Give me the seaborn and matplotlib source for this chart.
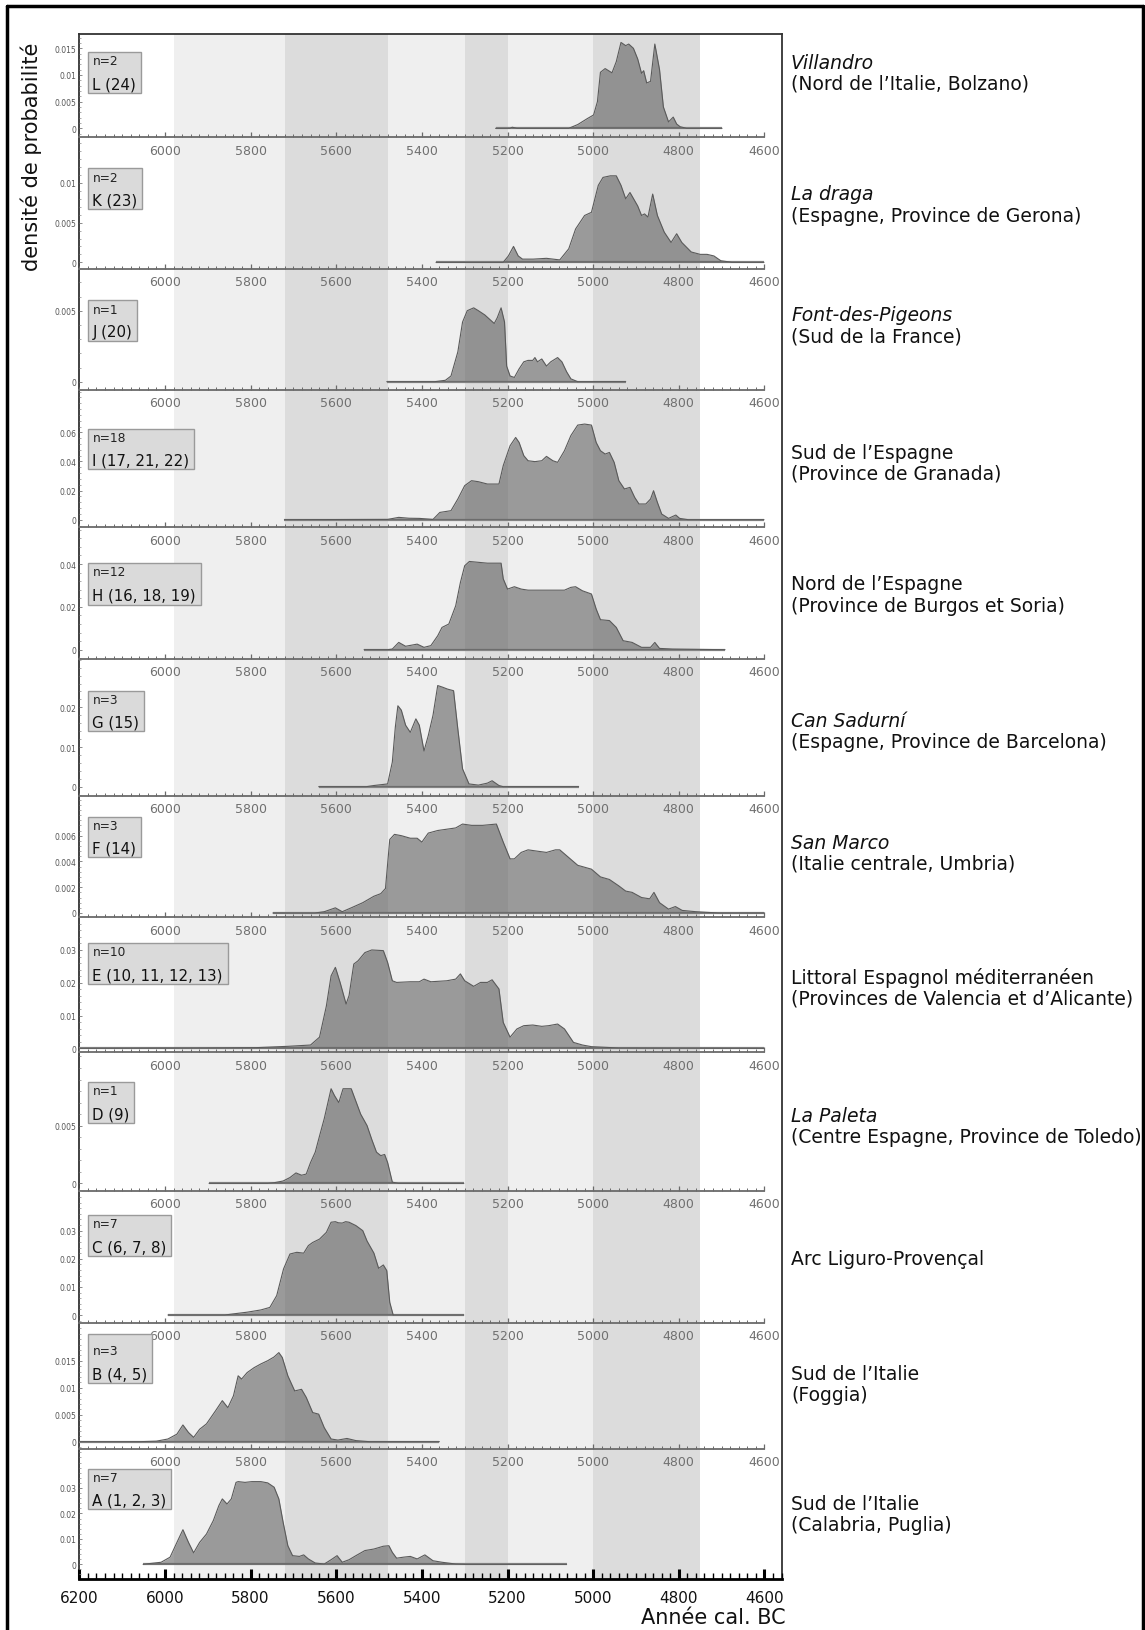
import numpy as np
import pandas as pd
import matplotlib
matplotlib.use("Agg")
import matplotlib.pyplot as plt
import seaborn as sns
from matplotlib.patches import Rectangle
from matplotlib.lines import Line2D
from matplotlib.ticker import FixedLocator, MultipleLocator, AutoMinorLocator, FuncFormatter

sns.set_theme(style="white")
plt.rcParams['font.family'] = ['DejaVu Sans']

# ---------------- data ----------------
panel_ids = ["L", "K", "J", "I", "H", "G", "F", "E", "D", "C", "B", "A"]
n_counts = [2, 2, 1, 18, 12, 3, 3, 10, 1, 7, 3, 7]
box_labels = ["L (24)", "K (23)", "J (20)", "I (17, 21, 22)", "H (16, 18, 19)", "G (15)",
              "F (14)", "E (10, 11, 12, 13)", "D (9)", "C (6, 7, 8)", "B (4, 5)", "A (1, 2, 3)"]
site_names = ["Villandro", "La draga", "Font-des-Pigeons", "Sud de l\u2019Espagne", "Nord de l\u2019Espagne",
              "Can Sadurní", "San Marco", "Littoral Espagnol méditerranéen", "La Paleta",
              "Arc Liguro-Provençal", "Sud de l\u2019Italie", "Sud de l\u2019Italie"]
site_regions = ["(Nord de l\u2019Italie, Bolzano)", "(Espagne, Province de Gerona)", "(Sud de la France)",
                "(Province de Granada)", "(Province de Burgos et Soria)", "(Espagne, Province de Barcelona)",
                "(Italie centrale, Umbria)", "(Provinces de Valencia et d\u2019Alicante)",
                "(Centre Espagne, Province de Toledo)", "", "(Foggia)", "(Calabria, Puglia)"]
site_italic = [True, True, True, False, False, True, True, False, True, False, False, False]
y_ticks = [[0, 0.005, 0.01, 0.015], [0, 0.005, 0.01], [0, 0.005], [0, 0.02, 0.04, 0.06],
           [0, 0.02, 0.04], [0, 0.01, 0.02], [0, 0.002, 0.004, 0.006], [0, 0.01, 0.02, 0.03],
           [0, 0.005], [0, 0.01, 0.02, 0.03], [0, 0.005, 0.01, 0.015], [0, 0.01, 0.02, 0.03]]
x_tick_years = [6200, 6000, 5800, 5600, 5400, 5200, 5000, 4800, 4600]

years_L = [5228, 5194, 5189, 5178, 5057, 5036, 5014, 4999, 4990, 4983, 4972, 4956, 4946, 4935, 4924, 4917,
           4906, 4896, 4887, 4882, 4875, 4866, 4856, 4845, 4836, 4824, 4813, 4805, 4797, 4782, 4699]
dens_L = [0, 0, 0.0002, 0, 0, 0.0007, 0.0018, 0.0025, 0.005, 0.0105, 0.0112, 0.0104, 0.0125, 0.0161, 0.0155,
          0.0158, 0.015, 0.013, 0.0103, 0.0108, 0.0085, 0.0088, 0.0158, 0.011, 0.004, 0.0012, 0.0021, 0.0008,
          0.0003, 0, 0]

years_K = [5367, 5210, 5198, 5186, 5175, 5165, 5140, 5109, 5078, 5057, 5041, 5020, 5004, 4988, 4977, 4960,
           4946, 4935, 4924, 4914, 4896, 4887, 4880, 4872, 4861, 4850, 4834, 4818, 4805, 4793, 4771, 4750,
           4734, 4718, 4702, 4676, 4601]
dens_K = [0, 0, 0.0008, 0.002, 0.0008, 0.0004, 0.0004, 0.0005, 0.0003, 0.0017, 0.0042, 0.0059, 0.0063,
          0.0097, 0.0107, 0.0109, 0.0109, 0.0097, 0.008, 0.0088, 0.0071, 0.0059, 0.0061, 0.0057, 0.0086,
          0.0059, 0.0038, 0.0025, 0.0036, 0.0025, 0.0013, 0.001, 0.001, 0.0008, 0.0002, 0, 0]

years_J = [5482, 5370, 5345, 5332, 5316, 5305, 5294, 5279, 5268, 5253, 5242, 5231, 5224, 5215, 5207, 5202,
           5194, 5184, 5173, 5162, 5152, 5141, 5136, 5130, 5120, 5109, 5099, 5083, 5073, 5062, 5052, 5036, 4924]
dens_J = [0, 0, 0.0001, 0.0004, 0.0021, 0.0042, 0.005, 0.0052, 0.005, 0.0047, 0.0044, 0.0041, 0.0045,
          0.0052, 0.0042, 0.0011, 0.0004, 0.0003, 0.0009, 0.0014, 0.0015, 0.0015, 0.0017, 0.0014, 0.0016,
          0.0011, 0.0014, 0.0017, 0.0014, 0.0007, 0.0002, 0, 0]

years_I = [5721, 5600, 5480, 5454, 5430, 5406, 5374, 5358, 5332, 5316, 5300, 5284, 5268, 5247, 5220, 5210,
           5194, 5181, 5173, 5162, 5152, 5136, 5120, 5109, 5094, 5083, 5067, 5052, 5036, 5020, 5004, 4993,
           4983, 4972, 4962, 4951, 4940, 4927, 4914, 4903, 4893, 4877, 4866, 4859, 4850, 4840, 4824, 4807,
           4798, 4778, 4729, 4601]
dens_I = [0, 0.0001, 0.0002, 0.0016, 0.001, 0.0009, 0.0002, 0.005, 0.0062, 0.0142, 0.0234, 0.0268, 0.0261,
          0.0245, 0.0245, 0.0371, 0.0508, 0.0565, 0.0531, 0.044, 0.0405, 0.0399, 0.0405, 0.0435, 0.0405,
          0.0394, 0.0474, 0.0578, 0.065, 0.0657, 0.065, 0.0531, 0.0474, 0.0451, 0.0462, 0.0394, 0.0268,
          0.0211, 0.0222, 0.0153, 0.0108, 0.0108, 0.0142, 0.0199, 0.0119, 0.0039, 0.0009, 0.0032, 0.0009,
          0, 0, 0]

years_H = [5535, 5480, 5469, 5454, 5438, 5411, 5395, 5379, 5363, 5353, 5337, 5321, 5310, 5300, 5289, 5268,
           5247, 5215, 5210, 5200, 5184, 5168, 5152, 5067, 5052, 5041, 5025, 5004, 4993, 4983, 4962, 4946,
           4930, 4909, 4887, 4866, 4856, 4845, 4814, 4692]
dens_H = [0, 0, 0.0003, 0.0034, 0.0016, 0.0026, 0.0011, 0.0019, 0.0065, 0.0104, 0.012, 0.0205, 0.0314,
          0.0392, 0.0412, 0.0408, 0.0404, 0.0404, 0.0331, 0.0283, 0.0294, 0.0283, 0.0278, 0.0278, 0.0291,
          0.0294, 0.0275, 0.026, 0.019, 0.014, 0.0136, 0.0104, 0.0042, 0.0034, 0.0011, 0.0011, 0.0034,
          0.0006, 0.0003, 0]

years_G = [5641, 5530, 5512, 5480, 5469, 5462, 5456, 5448, 5438, 5427, 5414, 5406, 5395, 5385, 5374, 5363,
           5352, 5340, 5326, 5316, 5305, 5290, 5268, 5247, 5236, 5220, 5210, 5034]
dens_G = [0, 0, 0.0003, 0.0007, 0.0062, 0.015, 0.0204, 0.0193, 0.0155, 0.0137, 0.0171, 0.0155, 0.009,
          0.0129, 0.018, 0.0255, 0.0251, 0.0246, 0.0242, 0.0145, 0.0045, 0.0007, 0.0004, 0.0009, 0.0015,
          0.0003, 0, 0]

years_F = [5748, 5650, 5628, 5602, 5586, 5565, 5538, 5512, 5496, 5485, 5475, 5464, 5448, 5427, 5411, 5400,
           5385, 5363, 5342, 5321, 5305, 5284, 5258, 5226, 5210, 5194, 5184, 5168, 5152, 5131, 5109, 5088,
           5078, 5057, 5036, 5004, 4983, 4962, 4940, 4924, 4909, 4887, 4868, 4858, 4845, 4824, 4808, 4792,
           4760, 4707, 4601]
dens_F = [0, 0, 0.0001, 0.0004, 0.0001, 0.0004, 0.0008, 0.0013, 0.0015, 0.0019, 0.0057, 0.0061, 0.006,
          0.0058, 0.0058, 0.0055, 0.0062, 0.0064, 0.0065, 0.0066, 0.0069, 0.0068, 0.0068, 0.0069, 0.0055,
          0.0042, 0.0042, 0.0047, 0.0049, 0.0048, 0.0047, 0.0049, 0.0049, 0.0043, 0.0037, 0.0034, 0.0028,
          0.0026, 0.0021, 0.0017, 0.0016, 0.0012, 0.0011, 0.0016, 0.0008, 0.0003, 0.0005, 0.0002, 0.0001,
          0, 0]

years_E = [6200, 5900, 5787, 5713, 5660, 5639, 5623, 5612, 5602, 5591, 5577, 5570, 5559, 5549, 5533, 5517,
           5490, 5480, 5469, 5459, 5427, 5406, 5395, 5379, 5342, 5321, 5310, 5300, 5279, 5263, 5247, 5236,
           5220, 5210, 5194, 5178, 5162, 5141, 5120, 5104, 5083, 5067, 5046, 5025, 5004, 4940, 4601]
dens_E = [0, 0.0001, 0.0002, 0.0006, 0.001, 0.0034, 0.0129, 0.0221, 0.0247, 0.0201, 0.0135, 0.0161, 0.0257,
          0.0267, 0.0292, 0.03, 0.0298, 0.0262, 0.0206, 0.0201, 0.0203, 0.0203, 0.0211, 0.0203, 0.0206,
          0.0211, 0.0227, 0.0206, 0.0189, 0.0201, 0.0201, 0.0209, 0.0181, 0.0079, 0.0034, 0.0059, 0.0069,
          0.0071, 0.0067, 0.0069, 0.0074, 0.0059, 0.0018, 0.001, 0.0005, 0.0001, 0]

years_D = [5897, 5760, 5745, 5724, 5708, 5694, 5681, 5670, 5660, 5649, 5639, 5628, 5612, 5604, 5594, 5584,
           5575, 5565, 5556, 5543, 5528, 5517, 5506, 5496, 5487, 5480, 5469, 5455, 5302]
dens_D = [0, 0, 0.00005, 0.0002, 0.0005, 0.0009, 0.0007, 0.0008, 0.0018, 0.0027, 0.0041, 0.0056, 0.0082,
          0.0076, 0.007, 0.0082, 0.0082, 0.0082, 0.0073, 0.006, 0.005, 0.0038, 0.0027, 0.0024, 0.0025,
          0.0018, 0.0001, 0, 0]

years_C = [5993, 5860, 5840, 5808, 5776, 5755, 5739, 5723, 5708, 5692, 5676, 5665, 5655, 5639, 5623, 5612,
           5602, 5595, 5586, 5578, 5570, 5554, 5538, 5528, 5512, 5501, 5490, 5482, 5475, 5467, 5302]
dens_C = [0, 0, 0.0004, 0.001, 0.0018, 0.0027, 0.0069, 0.0164, 0.0217, 0.0223, 0.022, 0.0247, 0.0258, 0.027,
          0.0294, 0.033, 0.0332, 0.0328, 0.0327, 0.0332, 0.033, 0.0318, 0.03, 0.0263, 0.022, 0.0166, 0.0178,
          0.0158, 0.0045, 0, 0]

years_B = [6200, 6060, 6020, 5993, 5972, 5958, 5945, 5933, 5919, 5903, 5882, 5866, 5853, 5840, 5829, 5821,
           5808, 5792, 5776, 5760, 5745, 5734, 5726, 5713, 5697, 5681, 5670, 5655, 5641, 5628, 5612, 5596,
           5575, 5554, 5522, 5359]
dens_B = [0, 0, 0.0001, 0.0005, 0.0014, 0.0031, 0.0017, 0.0008, 0.0023, 0.0033, 0.0057, 0.0076, 0.0063,
          0.0085, 0.0122, 0.0116, 0.0128, 0.0137, 0.0144, 0.015, 0.0157, 0.0165, 0.0156, 0.0122, 0.0094,
          0.0097, 0.0082, 0.0054, 0.0051, 0.0026, 0.0005, 0.0003, 0.0006, 0.0002, 0, 0]

years_A = [6051, 6009, 5988, 5972, 5958, 5945, 5933, 5919, 5903, 5887, 5874, 5866, 5855, 5845, 5834, 5829,
           5813, 5797, 5776, 5760, 5745, 5734, 5724, 5713, 5702, 5686, 5676, 5665, 5649, 5628, 5612, 5598,
           5586, 5570, 5554, 5533, 5512, 5490, 5477, 5469, 5459, 5443, 5427, 5411, 5393, 5374, 5353, 5321,
           5300, 5062]
dens_A = [0, 0.0008, 0.0028, 0.0086, 0.0136, 0.0086, 0.0045, 0.0086, 0.0119, 0.0172, 0.0231, 0.0257,
          0.0237, 0.0257, 0.0322, 0.0325, 0.0322, 0.0325, 0.0325, 0.032, 0.0303, 0.0257, 0.0165, 0.0073,
          0.0034, 0.0031, 0.0037, 0.0021, 0.0005, 0.0001, 0.0018, 0.0034, 0.0008, 0.0018, 0.0034, 0.0054,
          0.006, 0.0071, 0.0073, 0.0047, 0.0024, 0.0028, 0.0031, 0.0021, 0.0037, 0.0014, 0.0008, 0.0001,
          0, 0]

curve_years = [years_L, years_K, years_J, years_I, years_H, years_G, years_F, years_E, years_D, years_C,
               years_B, years_A]
curve_dens = [dens_L, dens_K, dens_J, dens_I, dens_H, dens_G, dens_F, dens_E, dens_D, dens_C, dens_B, dens_A]

band_edges = [(5980, 5720), (5720, 5480), (5480, 5300), (5300, 5200), (5200, 5000), (5000, 4750)]
band_shades = ["#efefef", "#dcdcdc", "#efefef", "#dcdcdc", "#efefef", "#dcdcdc"]

# ---------------- layout (pixels) ----------------
W, H = 1145, 1631
fig = plt.figure(figsize=(W / 100, H / 100), dpi=100)
fig.patch.set_facecolor("white")


def fx(x):
    return x / W


def fy(y):
    return 1 - y / H


X0, X1 = 79.3, 782.0
XLIM = (6200, 4559)
frame_top, frame_bot = 35, 1580

axis_y = [138.3, 270, 390.7, 528.3, 660, 796.7, 918.3, 1053.3, 1191.7, 1324, 1450, 1580]
base_y = [129.3, 263.3, 382.7, 520.7, 650.7, 787.7, 914, 1049.3, 1184.3, 1316, 1442.7, 1565.3]
px_per_unit = [5333, 7933, 14200, 1455.6, 2141.7, 3966.7, 12889, 3277.8, 11533, 2811, 5400, 2544]
top_y = [frame_top] + axis_y[:-1]
box_top = [52.7, 169, 301, 430, 564, 692, 818, 944, 1083, 1216, 1335, 1470]
box_h = [41, 41, 41, 40, 42, 40, 40, 41, 41, 41, 49, 40]
n_off = [9, 9, 9, 9, 9, 9, 9, 9, 9, 9, 16.5, 9]
lab_off = [32, 32, 32, 31, 32, 31, 31, 32, 32, 32, 40.5, 31]

# background bands + frame
bg = fig.add_axes([fx(X0), fy(frame_bot), fx(X1) - fx(X0), (frame_bot - frame_top) / H])
bg.set_xlim(*XLIM)
bg.set_ylim(0, 1)
bg.set_facecolor("white")
for (a, b), c in zip(band_edges, band_shades):
    bg.axvspan(a, b, color=c, lw=0)
bg.set_xticks([])
bg.set_yticks([])
for s in ["left", "right", "top"]:
    bg.spines[s].set_visible(True)
    bg.spines[s].set_color("#333333")
    bg.spines[s].set_linewidth(1.3)
bg.spines["bottom"].set_visible(False)

fill_color = "#555555"
texts_for_boxes = []

for i in range(12):
    top, axl, base, ppu = top_y[i], axis_y[i], base_y[i], px_per_unit[i]
    ax = fig.add_axes([fx(X0), fy(axl), fx(X1) - fx(X0), (axl - top) / H])
    ax.set_facecolor("none")
    ax.patch.set_alpha(0)
    ax.set_xlim(*XLIM)
    ax.set_ylim(-(axl - base) / ppu, (base - top) / ppu)

    df = pd.DataFrame({"year": curve_years[i], "density": curve_dens[i]})
    ax.plot([df.year.iloc[0], df.year.iloc[-1]], [0, 0], color="#8a8a8a", lw=1.6, zorder=2,
            solid_capstyle="butt")
    ax.fill_between(df.year, 0, df.density, color=fill_color, alpha=0.55, lw=0, zorder=3)
    sns.lineplot(data=df, x="year", y="density", ax=ax, color="#5a5a5a", lw=0.8,
                 estimator=None, sort=False, zorder=4)
    ax.set_xlabel("")
    ax.set_ylabel("")

    for s in ["left", "right", "top"]:
        ax.spines[s].set_visible(False)
    last = (i == 11)
    ax.spines["bottom"].set_visible(True)
    if last:
        ax.spines["bottom"].set_color("black")
        ax.spines["bottom"].set_linewidth(2.0)
        ax.xaxis.set_major_locator(FixedLocator(x_tick_years))
        ax.xaxis.set_minor_locator(MultipleLocator(20))
        ax.tick_params(axis="x", which="major", direction="in", length=7.5, width=2.2, color="black",
                       labelsize=11, labelcolor="#111111", pad=8, bottom=True)
        ax.tick_params(axis="x", which="minor", direction="in", length=4.5, width=1.0, color="black",
                       bottom=True)
    else:
        ax.spines["bottom"].set_bounds(4600, 6200)
        ax.spines["bottom"].set_color("#6a6a6a")
        ax.spines["bottom"].set_linewidth(1.3)
        ax.xaxis.set_major_locator(FixedLocator(x_tick_years[1:]))
        ax.xaxis.set_minor_locator(FixedLocator(list(range(6200, 4599, -20))))
        ax.tick_params(axis="x", which="major", direction="in", length=3.5, width=0.9, color="#6a6a6a",
                       labelsize=9, labelcolor="#707070", pad=4.5, bottom=True)
        ax.tick_params(axis="x", which="minor", direction="in", length=2.0, width=0.7, color="#6a6a6a",
                       bottom=True)
    ax.xaxis.set_major_formatter(FuncFormatter(lambda v, p: f"{int(round(v))}"))

    ax.yaxis.set_major_locator(FixedLocator(y_ticks[i]))
    ax.yaxis.set_minor_locator(AutoMinorLocator(5))
    ax.yaxis.set_major_formatter(FuncFormatter(lambda v, p: f"{v:g}"))
    ax.tick_params(axis="y", which="major", direction="in", length=2.5, width=0.6, color="#777777",
                   labelsize=5.5, labelcolor="#555555", pad=2, left=True)
    ax.tick_params(axis="y", which="minor", direction="in", length=1.3, width=0.5, color="#888888",
                   left=True)
    ax.grid(False)

    # n box texts
    t1 = fig.text(fx(92.5), fy(box_top[i] + n_off[i]), f"n={n_counts[i]}", ha="left", va="center",
                  fontsize=8.8, color="#222222", zorder=10)
    t2 = fig.text(fx(92.5), fy(box_top[i] + lab_off[i]), box_labels[i], ha="left", va="center",
                  fontsize=10.8, color="#111111", zorder=10)
    texts_for_boxes.append((i, t1, t2))

    # right labels
    style = "italic" if site_italic[i] else "normal"
    if site_regions[i]:
        fig.text(fx(791), fy(axl - 75), site_names[i], ha="left", va="center", fontsize=13.5,
                 style=style, color="#111111")
        fig.text(fx(791), fy(axl - 54), site_regions[i], ha="left", va="center", fontsize=13.5,
                 color="#111111")
    else:
        fig.text(fx(791), fy(axl - 64), site_names[i], ha="left", va="center", fontsize=13.5,
                 style=style, color="#111111")

# draw boxes around n texts
fig.canvas.draw()
renderer = fig.canvas.get_renderer()
for i, t1, t2 in texts_for_boxes:
    right = max(t1.get_window_extent(renderer).x1, t2.get_window_extent(renderer).x1)
    x_left = 87.7
    x_right = right + 4.5
    rect = Rectangle((fx(x_left), fy(box_top[i] + box_h[i])), (x_right - x_left) / W, box_h[i] / H,
                     transform=fig.transFigure, facecolor="#dadada", edgecolor="#9a9a9a", lw=1.0,
                     zorder=9)
    fig.add_artist(rect)

# axis titles
fig.text(fx(31), fy(157), "densité de probabilité", rotation=90, ha="center", va="center", fontsize=15,
         color="#111111")
fig.text(fx(786), fy(1618), "Année cal. BC", ha="right", va="center", fontsize=15, color="#111111")

# outer border
for xs, ys in [([7, 7], [7, 1631]), ([7, 1143], [7, 7]), ([1143, 1143], [7, 1631])]:
    fig.add_artist(Line2D([fx(v) for v in xs], [fy(v) for v in ys], transform=fig.transFigure,
                          color="black", lw=2.5))

fig.savefig("out.png", dpi=100, facecolor="white")
